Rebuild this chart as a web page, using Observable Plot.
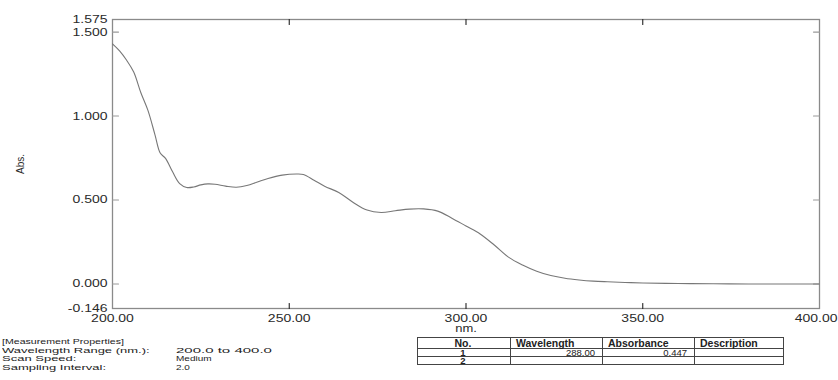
<!DOCTYPE html>
<html>
<head>
<meta charset="utf-8">
<script src="https://cdn.jsdelivr.net/npm/d3@7"></script>
<script src="https://cdn.jsdelivr.net/npm/@observablehq/plot@0.6"></script>
<style>
  html, body { margin: 0; padding: 0; background: #fff; }
  #chart { position: relative; width: 838px; height: 380px; overflow: hidden; font-family: "Liberation Sans", Arial, sans-serif; color: #222; }
  #plot svg { display: block; }
  .pline { position: absolute; left: 2px; height: 9px; white-space: nowrap; }
  .pline span { position: absolute; top: 0; display: inline-block; line-height: 1; transform-origin: 0 0; }
  .pline .h { left: 0; font-size: 10.6px; transform: scaleY(0.69); }
  .pline .k { left: 0; font-size: 13px; transform: scaleY(0.56); }
  .pline .v { left: 174px; font-size: 10px; transform: scaleY(0.73); }
  .pline .v.wide { font-size: 15px; transform: scaleY(0.49); }
  #peaks { position: absolute; left: 417px; top: 337px; border-collapse: collapse; table-layout: fixed; width: 366px; font-size: 9.5px; }
  #peaks td, #peaks th { border: 1px solid #444; padding: 0 7px 0 5px; white-space: nowrap; overflow: visible; }
  #peaks th { font-weight: bold; font-size: 10.5px; height: 10px; line-height: 10px; text-align: left; }
  #peaks th.no { text-align: center; }
  #peaks td { height: 7px; line-height: 7px; text-align: right; }
  #peaks td.no { text-align: center; font-weight: bold; }
</style>
</head>
<body>
<div id="chart">
  <div id="plot"></div>
  <div id="props"></div>
  <table id="peaks"></table>
</div>
<script>
// UV-Vis absorption spectrum, 200–400 nm
const wavelength = [
  200, 202, 204, 206, 208, 210, 212, 213.5, 215, 217, 219, 221, 223, 225, 227, 229,
  232, 235, 238, 241, 244, 248, 252, 254, 257, 260, 264, 268, 272, 276, 280, 284,
  288, 292, 296, 300, 304, 308, 312, 316, 320, 324, 328, 332, 336, 340, 345, 350,
  360, 370, 380, 390, 400
];
const absorbance = [
  1.430, 1.388, 1.332, 1.262, 1.140, 1.035, 0.890, 0.780, 0.748, 0.668, 0.598, 0.575, 0.578, 0.590, 0.596, 0.594,
  0.583, 0.576, 0.586, 0.607, 0.628, 0.648, 0.655, 0.652, 0.618, 0.582, 0.545, 0.487, 0.440, 0.426, 0.436, 0.446,
  0.447, 0.434, 0.392, 0.345, 0.298, 0.232, 0.160, 0.113, 0.076, 0.050, 0.034, 0.024, 0.017, 0.013, 0.009, 0.006,
  0.003, 0.001, 0.000, 0.000, 0.000
];

// Axis ticks
const xLabelTicks = [200, 250, 300, 350];
const xEndTick = [400];
const xMarkTicks = [250, 300, 350];
const yLabelTicks = [-0.146, 0, 0.5, 1, 1.5, 1.575];
const yMarkTicks = [0, 0.5, 1, 1.5];

// Measurement properties
const propHeading = "[Measurement Properties]";
const propNames = ["Wavelength Range (nm.):", "Scan Speed:", "Sampling Interval:"];
const propValues = ["200.0 to 400.0", "Medium", "2.0"];

// Peak table
const peakHeaders = ["No.", "Wavelength", "Absorbance", "Description"];
const peakNo = [1, 2];
const peakWavelength = [288.00, null];
const peakAbsorbance = [0.447, null];

const spectrum = wavelength.map((w, i) => ({w, a: absorbance[i]}));
const fmtX = d => d.toFixed(2);

// a plain straight tick for Plot.vector (no arrow head)
const tickShape = {draw(context, l) { context.moveTo(0, 0); context.lineTo(0, -l); }};
// inward ticks on each side of the frame
const innerTick = (data, channel, frameAnchor, rotate, length, stroke) =>
  Plot.vector(data, {[channel]: d => d, frameAnchor, rotate, length, anchor: "start", shape: tickShape, stroke, strokeWidth: 1.1});

const chart = Plot.plot({
  width: 838,
  height: 336,
  marginLeft: 112,
  marginRight: 19,
  marginTop: 19,
  marginBottom: 28,
  x: {domain: [200, 400]},
  y: {domain: [-0.146, 1.575]},
  style: {fontFamily: "'Liberation Sans', Arial, sans-serif", fontSize: "14px", color: "#2a2a2a", background: "#fff"},
  marks: [
    Plot.axisX(xLabelTicks, {anchor: "bottom", tickSize: 0, tickPadding: 6, tickFormat: fmtX, label: null}),
    // the last label sits flush with the right edge of the page
    Plot.axisX(xEndTick, {anchor: "bottom", tickSize: 0, tickPadding: 6, tickFormat: fmtX, textAnchor: "end", dx: 18, label: null}),
    Plot.axisY(yLabelTicks, {anchor: "left", tickSize: 0, tickPadding: 5, tickFormat: d => d.toFixed(3), label: null}),
    Plot.frame({stroke: "#8a8a8a", strokeWidth: 1.3}),
    innerTick(xMarkTicks, "x", "top", 180, 5, "#222"),
    innerTick(xMarkTicks, "x", "bottom", 0, 5, "#222"),
    innerTick(yMarkTicks, "y", "left", 90, 6, "#999"),
    innerTick(yMarkTicks, "y", "right", -90, 6, "#999"),
    Plot.line(spectrum, {x: "w", y: "a", curve: "catmull-rom", stroke: "#777", strokeWidth: 1.1}),
    Plot.text(["nm."], {frameAnchor: "bottom", dy: 20, lineAnchor: "middle", textAnchor: "middle", fontSize: 13, fill: "#2a2a2a"}),
    Plot.text(["Abs."], {frameAnchor: "left", dx: -92, rotate: -90, lineAnchor: "middle", textAnchor: "middle", fontSize: 10, fill: "#2a2a2a"})
  ]
});

// squeeze horizontal text vertically to the printout's proportions
chart.querySelectorAll("text").forEach(t => {
  const tr = t.getAttribute("transform") || "";
  if (tr.startsWith("translate(") && !tr.includes("rotate")) {
    t.setAttribute("transform", tr + " scale(1,0.77)");
  }
});
document.getElementById("plot").append(chart);

// properties block
const props = document.getElementById("props");
const lineTops = [338.1, 346.7, 355.3, 363.9];
function addLine(top, parts) {
  const line = document.createElement("div");
  line.className = "pline";
  line.style.top = top + "px";
  parts.forEach(([cls, text]) => {
    const s = document.createElement("span");
    s.className = cls;
    s.textContent = text;
    line.append(s);
  });
  props.append(line);
}
addLine(lineTops[0], [["h", propHeading]]);
propNames.forEach((name, i) => {
  addLine(lineTops[i + 1], [["k", name], [i === 0 ? "v wide" : "v", propValues[i]]]);
});

// peak table
const table = document.getElementById("peaks");
const colgroup = document.createElement("colgroup");
[93, 92, 92, 89].forEach(w => { const c = document.createElement("col"); c.style.width = w + "px"; colgroup.append(c); });
table.append(colgroup);
const hr = document.createElement("tr");
peakHeaders.forEach((h, j) => {
  const th = document.createElement("th");
  if (j === 0) th.className = "no";
  th.textContent = h;
  hr.append(th);
});
table.append(hr);
peakNo.forEach((n, i) => {
  const tr = document.createElement("tr");
  const cells = [
    n,
    peakWavelength[i] == null ? "" : peakWavelength[i].toFixed(2),
    peakAbsorbance[i] == null ? "" : peakAbsorbance[i].toFixed(3),
    ""
  ];
  cells.forEach((c, j) => {
    const td = document.createElement("td");
    if (j === 0) td.className = "no";
    td.textContent = c;
    tr.append(td);
  });
  table.append(tr);
});
</script>
</body>
</html>
